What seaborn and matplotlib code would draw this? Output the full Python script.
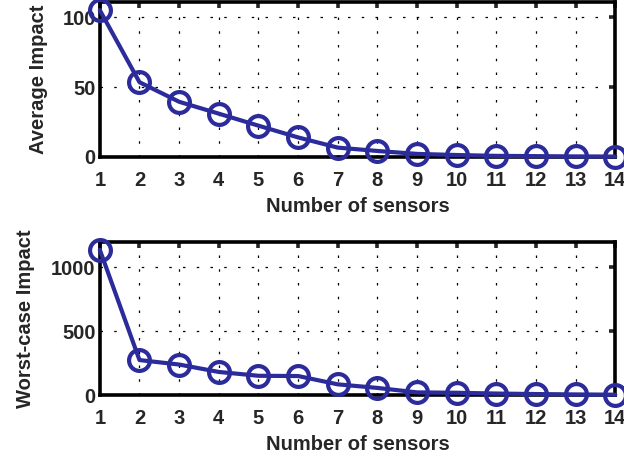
import numpy as np
import pandas as pd
import matplotlib
matplotlib.use("Agg")
import matplotlib.pyplot as plt
import seaborn as sns

# number of sensors on x
sensors = list(range(1, 15))
avg_impact = [105, 53.5, 39.5, 31, 22.4, 14, 6.7, 4.3, 2.2, 1.4, 0.8, 0.6, 0.4, 0.3]
worst_impact = [1138, 275, 240, 182, 152, 150, 85, 57, 22, 19, 13, 9, 6, 4]

avg_ticks = [0, 50, 100]
worst_ticks = [0, 500, 1000]

line_color = "#2b2b9b"

sns.set_style("white")
plt.rcParams['font.family'] = ['Liberation Sans', 'DejaVu Sans']
plt.rcParams['font.weight'] = 'bold'
plt.rcParams['axes.labelweight'] = 'bold'

df = pd.DataFrame({"sensors": sensors, "avg": avg_impact, "worst": worst_impact})

fig = plt.figure(figsize=(6.24, 4.59), dpi=100)
ax1 = fig.add_axes([0.160, 0.658, 0.826, 0.338])
ax2 = fig.add_axes([0.160, 0.139, 0.826, 0.334])

FS = 14.5


def style_axis(ax, col, ylim, yticks, ylabel, ypad):
    sns.lineplot(data=df, x="sensors", y=col, ax=ax, color=line_color,
                 linewidth=3, marker="o", markersize=15,
                 markerfacecolor="none", markeredgecolor=line_color,
                 markeredgewidth=3, clip_on=False, zorder=5)
    ax.set_xlim(1, 14)
    ax.set_ylim(*ylim)
    ax.set_xticks(sensors)
    ax.set_yticks(yticks)
    ax.set_xlabel("Number of sensors", fontsize=FS, fontweight="bold", labelpad=5)
    ax.set_ylabel(ylabel, fontsize=FS, fontweight="bold", labelpad=ypad)
    ax.grid(True, color="black", linestyle=(0, (2, 9)), linewidth=0.9)
    for s in ax.spines.values():
        s.set_visible(True)
        s.set_color("black")
        s.set_linewidth(2.6)
        s.set_zorder(4)
    ax.tick_params(direction="in", length=4, width=2.6, labelsize=FS,
                   top=True, right=True, pad=3)
    ax.tick_params(axis="x", pad=10)
    for lab in ax.get_xticklabels() + ax.get_yticklabels():
        lab.set_fontweight("bold")


style_axis(ax1, "avg", (0, 111), avg_ticks, "Average Impact", 10)
style_axis(ax2, "worst", (0, 1200), worst_ticks, "Worst-case Impact", 12)

fig.savefig("out.png", dpi=100)
